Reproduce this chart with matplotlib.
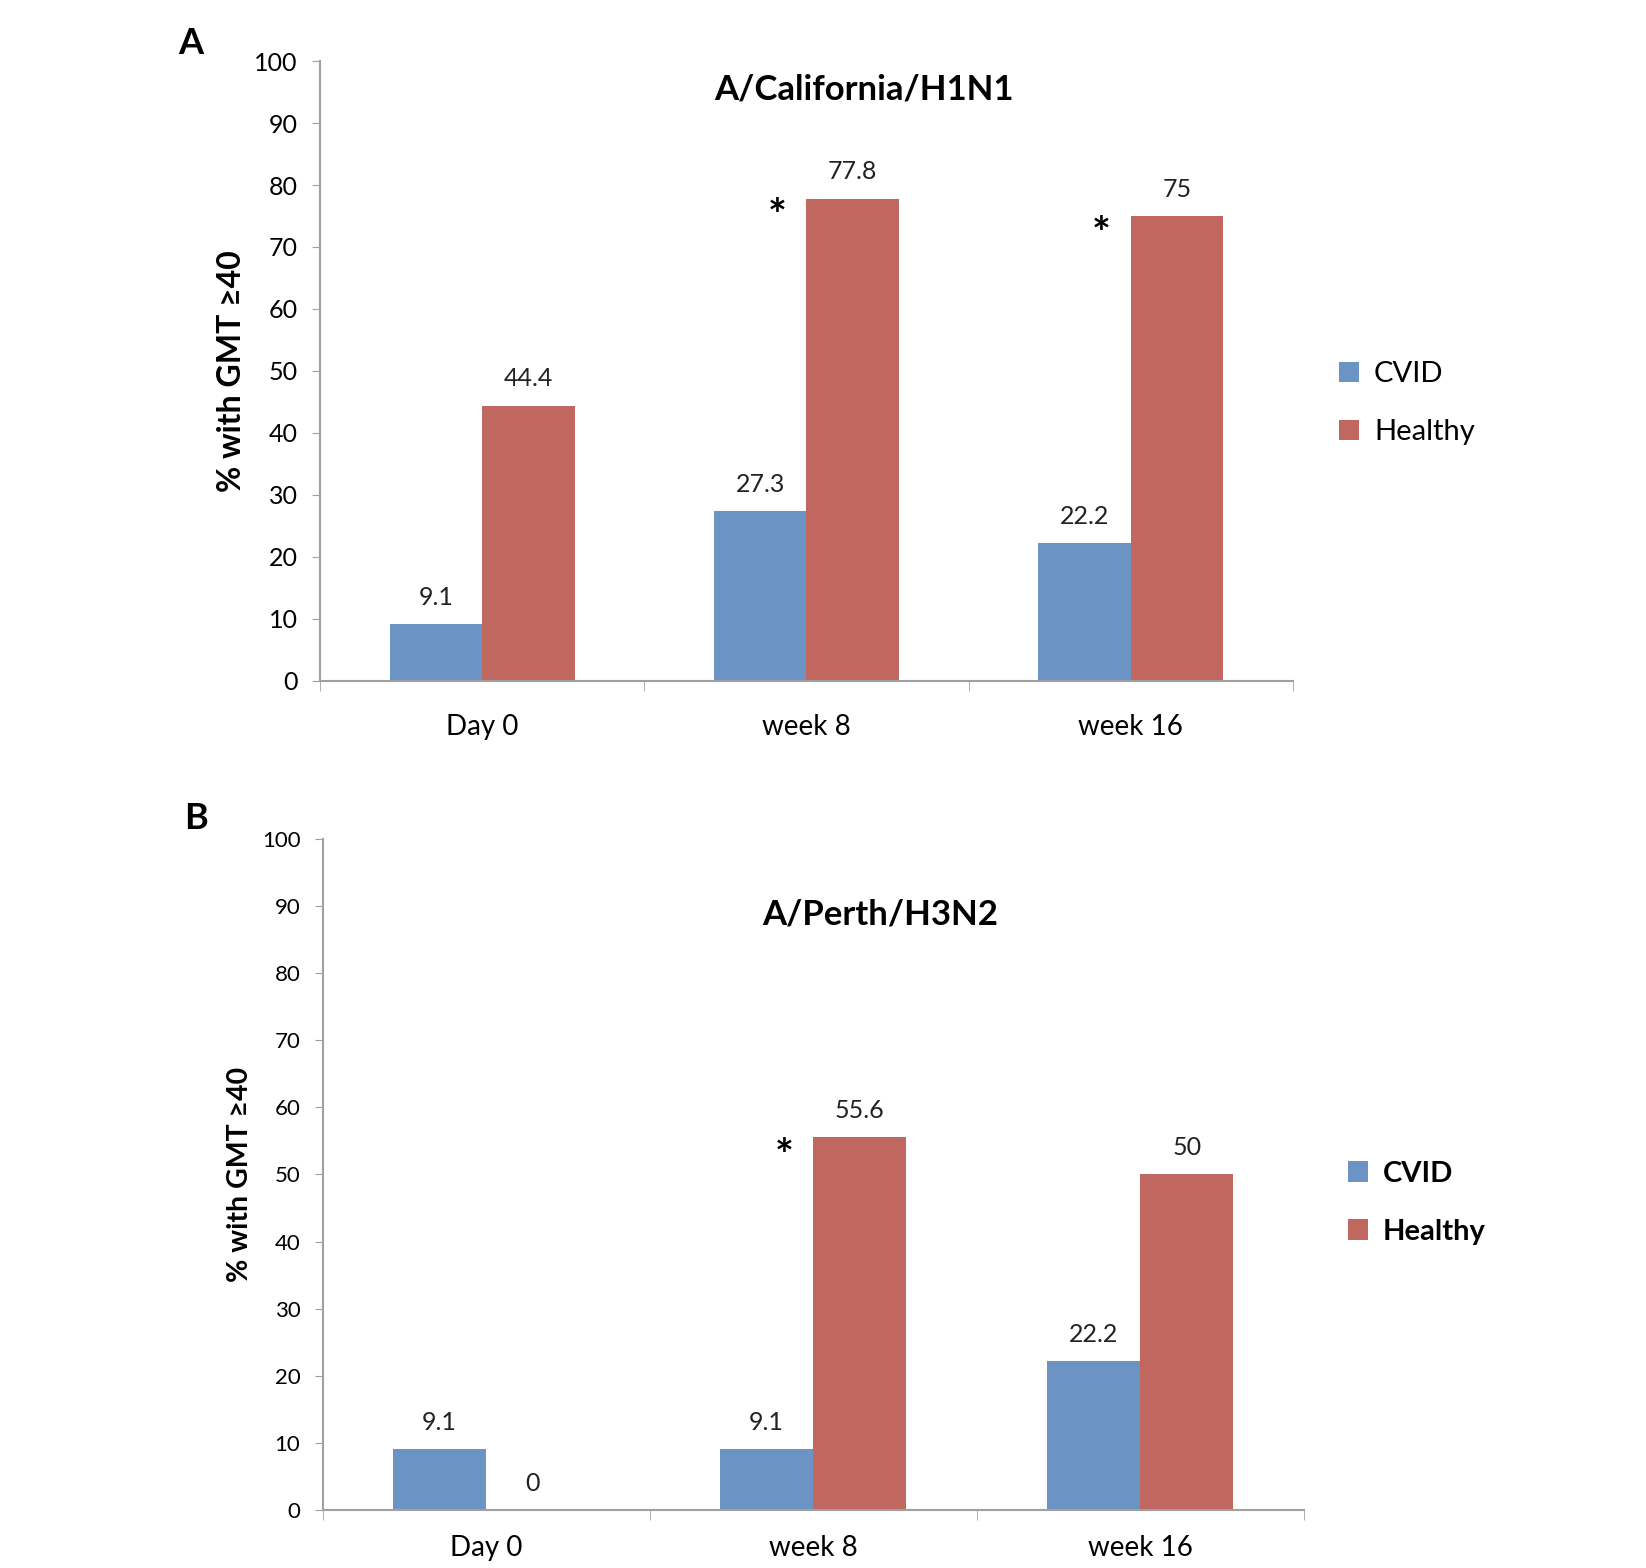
import numpy as np
import matplotlib.pyplot as plt

plt.rcParams['font.family'] = ['Lato', 'DejaVu Sans']

# Datos
categorias = ["Day 0", "week 8", "week 16"]
series = ["CVID", "Healthy"]
h1n1_cvid = [9.1, 27.3, 22.2]
h1n1_healthy = [44.4, 77.8, 75]
h3n2_cvid = [9.1, 9.1, 22.2]
h3n2_healthy = [0, 55.6, 50]
h1n1_sig = [False, True, True]
h3n2_sig = [False, True, False]
yticks = [0, 10, 20, 30, 40, 50, 60, 70, 80, 90, 100]

azul = "#6b94c4"
rojo = "#c06860"
gris = "#a0a0a0"

fig = plt.figure(figsize=(16.46, 15.68), dpi=100)

def panel(rect, cvid, healthy, sig, titulo, pos_titulo, tick_fs, leg_bold, leg_pos,
          xpad, ylab_fs, ylab_pad):
    ax = fig.add_axes(rect)
    x = np.arange(len(categorias))
    w = 0.285
    b1 = ax.bar(x - w / 2, cvid, w, color=azul, label=series[0])
    b2 = ax.bar(x + w / 2, healthy, w, color=rojo, label=series[1])
    for barras, vals in [(b1, cvid), (b2, healthy)]:
        for b, v in zip(barras, vals):
            ax.annotate(f"{v:g}", (b.get_x() + b.get_width() / 2, v),
                        xytext=(0, 11), textcoords="offset points",
                        ha="center", va="bottom", fontsize=18, color="#222222")
    for i, s in enumerate(sig):
        if s:
            ax.text(i - 0.09, healthy[i] - 3, "*", ha="center", va="center",
                    fontsize=32, fontweight="bold")
    ax.set_xlim(-0.5, 2.5)
    ax.set_ylim(0, 100)
    ax.set_yticks(yticks)
    ax.tick_params(axis="y", labelsize=tick_fs, length=6, color=gris, pad=10)
    ax.set_xticks(x)
    ax.set_xticklabels(categorias, fontsize=20)
    ax.set_xticks([-0.5, 0.5, 1.5, 2.5], minor=True)
    ax.tick_params(axis="x", which="major", length=0, pad=xpad)
    ax.tick_params(axis="x", which="minor", length=7, color=gris)
    for s in ["top", "right"]:
        ax.spines[s].set_visible(False)
    for s in ["left", "bottom"]:
        ax.spines[s].set_color(gris)
        ax.spines[s].set_linewidth(1.5)
    ax.set_ylabel("% with GMT \u226540", fontsize=ylab_fs, fontweight="bold",
                  labelpad=ylab_pad)
    fig.text(pos_titulo[0], pos_titulo[1], titulo, ha="center", va="center",
             fontsize=25, fontweight="bold")
    ax.legend(loc="center left", bbox_to_anchor=leg_pos, bbox_transform=fig.transFigure,
              frameon=False, handlelength=0.7, handleheight=0.7,
              labelspacing=1.1, handletextpad=0.5,
              prop={"size": 21, "weight": "bold" if leg_bold else "normal"})
    return ax

panel([0.1944, 0.566, 0.591, 0.395], h1n1_cvid, h1n1_healthy, h1n1_sig,
      "A/California/H1N1", (0.525, 0.943), 18, False, (0.7975, 0.743), 24, 23, 6)
panel([0.196, 0.037, 0.596, 0.428], h3n2_cvid, h3n2_healthy, h3n2_sig,
      "A/Perth/H3N2", (0.535, 0.417), 16, True, (0.803, 0.233), 18, 20.5, 6)

fig.text(0.116, 0.972, "A", fontsize=26, fontweight="bold", ha="center", va="center")
fig.text(0.119, 0.478, "B", fontsize=26, fontweight="bold", ha="center", va="center")

plt.savefig("out.png", dpi=100)
